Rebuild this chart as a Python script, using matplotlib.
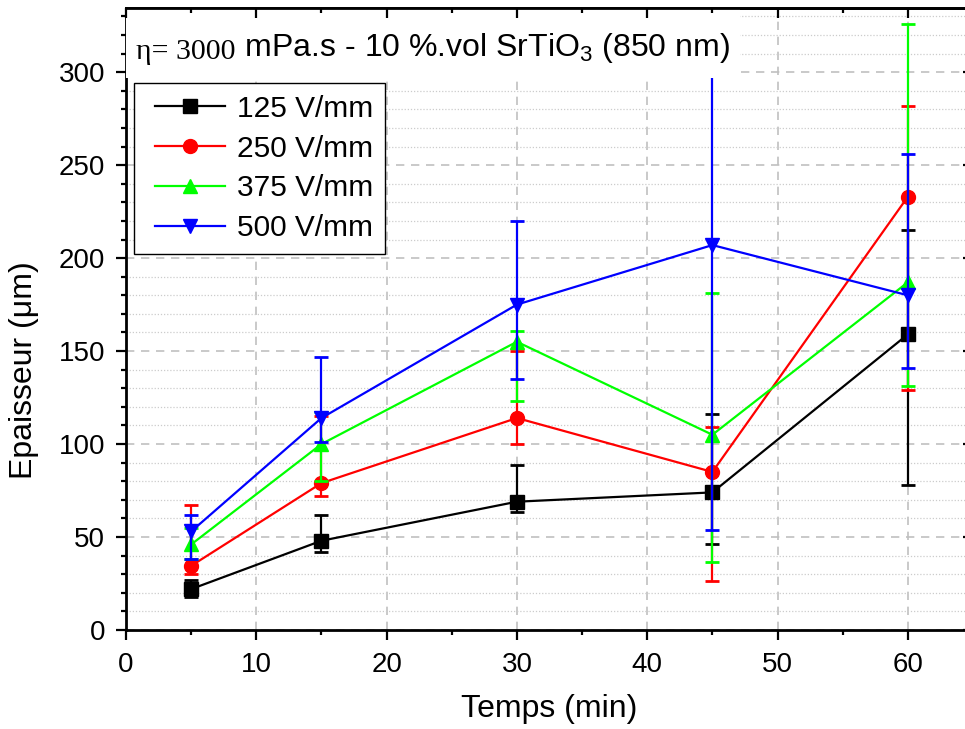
import matplotlib
matplotlib.use("Agg")
import matplotlib.pyplot as plt
from matplotlib.patches import Rectangle
from matplotlib.ticker import MultipleLocator
from matplotlib.legend_handler import HandlerLine2D
import numpy as np

plt.rcParams['font.family'] = ['Liberation Sans', 'DejaVu Sans']
plt.rcParams['mathtext.default'] = 'regular'

# temps (min)
temps = [5, 15, 30, 45, 60]

# epaisseur moyenne + bornes basse / haute des barres d'erreur
labels = ['125 V/mm', '250 V/mm', '375 V/mm', '500 V/mm']

ep_125 = [22, 48, 69, 74, 159]
low_125 = [18, 42, 63.5, 46, 78]
high_125 = [27, 62, 89, 116, 215]

ep_250 = [34.5, 79, 114, 85, 233]
low_250 = [30, 72, 100, 26.5, 129]
high_250 = [67, 115, 150, 109, 282]

ep_375 = [46, 100, 155, 105, 187]
low_375 = [38, 80, 123, 36.5, 131]
high_375 = [55, 117, 161, 181, 326]

ep_500 = [53, 114, 175, 207, 180]
low_500 = [38, 101, 135, 54, 141]
high_500 = [62, 147, 220, 310, 256]

series = [(ep_125, low_125, high_125, 'black', 's', 9.5),
          (ep_250, low_250, high_250, 'red', 'o', 10),
          (ep_375, low_375, high_375, '#00ff00', '^', 10),
          (ep_500, low_500, high_500, 'blue', 'v', 10)]

fig = plt.figure(figsize=(9.65, 7.29), dpi=100)
ax = fig.add_axes([126 / 965, 1 - 630 / 729, (973 - 126) / 965, (630 - 8) / 729])

handles = []
for i, (ep, lo, hi, col, mk, ms) in enumerate(series):
    ep = np.array(ep)
    yerr = [ep - np.array(lo), np.array(hi) - ep]
    c = ax.errorbar(temps, ep, yerr=yerr, color=col, marker=mk, markersize=ms,
                    lw=1.6, elinewidth=1.6, capsize=5, capthick=2,
                    label=labels[i], zorder=3 + i)
    handles.append(c.lines[0])

ax.set_xlim(0, 65)
ax.set_ylim(0, 334.5)
ax.xaxis.set_major_locator(MultipleLocator(10))
ax.xaxis.set_minor_locator(MultipleLocator(5))
ax.yaxis.set_major_locator(MultipleLocator(50))
ax.yaxis.set_minor_locator(MultipleLocator(10))

# grille style Origin
ax.grid(True, which='major', color='#c0c0c0', linestyle=(0, (5, 4)), lw=1.2)
ax.grid(True, which='minor', axis='y', color='#cccccc', linestyle=(0, (1, 1.5)), lw=0.9)
ax.set_axisbelow(True)

for s in ax.spines.values():
    s.set_linewidth(2)

ax.tick_params(which='both', direction='out', width=1.6, labelsize=20, right=True)
ax.tick_params(which='major', length=7)
ax.tick_params(which='minor', length=3.5)
ax.tick_params(axis='x', pad=8.5)
ax.tick_params(axis='y', pad=8)
for t in ax.yaxis.get_major_ticks() + ax.yaxis.get_minor_ticks():
    t.tick2line.set_marker(0)

# ticks du haut (vers l'interieur), au-dessus du cadre du titre
top = ax.secondary_xaxis('top')
top.xaxis.set_major_locator(MultipleLocator(10))
top.xaxis.set_minor_locator(MultipleLocator(5))
top.tick_params(which='both', direction='in', width=1.6, labeltop=False)
top.tick_params(which='major', length=7)
top.tick_params(which='minor', length=3.5)
top.spines['top'].set_linewidth(2)
top.set_zorder(12)

ax.set_xlabel('Temps (min)', fontsize=23, labelpad=12)
ax.set_ylabel('Epaisseur (\u03bcm)', fontsize=23)
ax.yaxis.set_label_coords(-0.103, 0.418)

# cadre blanc derriere le titre
ax.add_patch(Rectangle((0, 0.887), 0.725, 0.2, transform=ax.transAxes,
                       facecolor='white', edgecolor='none', zorder=8))
t1 = ax.text(0.012, 0.918, '\u03b7= 3000', transform=ax.transAxes,
             fontsize=21.5, family=['Liberation Serif', 'DejaVu Serif'],
             va='baseline', zorder=9)
ax.annotate(' mPa.s - 10 %.vol SrTiO$_3$ (850 nm)', xy=(1, 0), xycoords=t1,
            va='bottom', fontsize=23, zorder=9)

leg = ax.legend(handles, labels, loc='upper left', bbox_to_anchor=(0.0094, 0.879),
                borderaxespad=0, fontsize=21.5,
                handler_map={h: HandlerLine2D(xpad=0.33) for h in handles},
                handlelength=2.68, handletextpad=0.4, labelspacing=0.4,
                borderpad=0.38, fancybox=False, framealpha=1, edgecolor='black')
leg.get_frame().set_linewidth(1)
leg.set_zorder(10)

fig.savefig('out.png', dpi=100)
